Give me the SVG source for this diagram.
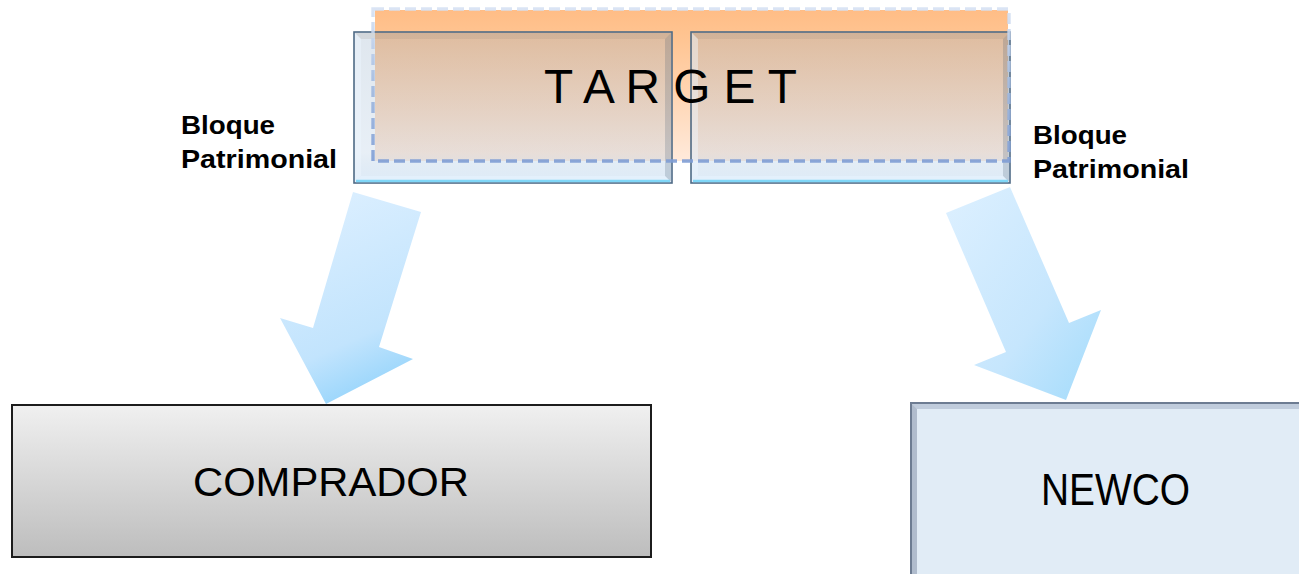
<svg xmlns="http://www.w3.org/2000/svg" width="1299" height="574" viewBox="0 0 1299 574">
  <defs>
    <linearGradient id="orangeFill" x1="0" y1="0" x2="0" y2="1">
      <stop offset="0" stop-color="#ffbd86"/>
      <stop offset="0.2" stop-color="#ffc593"/>
      <stop offset="1" stop-color="#ffeadb"/>
    </linearGradient>
    <linearGradient id="dashStroke" x1="0" y1="0" x2="0" y2="1">
      <stop offset="0" stop-color="#d6e1f3"/>
      <stop offset="0.5" stop-color="#a2badf"/>
      <stop offset="1" stop-color="#7f9dd4"/>
    </linearGradient>
    <linearGradient id="glassFill" x1="0" y1="0" x2="0" y2="1">
      <stop offset="0" stop-color="#94adc6" stop-opacity="0.30"/>
      <stop offset="0.8" stop-color="#a6c2de" stop-opacity="0.26"/>
      <stop offset="1" stop-color="#c4dcf2" stop-opacity="0.55"/>
    </linearGradient>
    <linearGradient id="arrowLeft" x1="0.3" y1="0" x2="0.6" y2="1">
      <stop offset="0" stop-color="#dcefff"/>
      <stop offset="0.7" stop-color="#c2e4fd"/>
      <stop offset="1" stop-color="#92d3fb"/>
    </linearGradient>
    <linearGradient id="arrowRight" x1="0" y1="0" x2="1" y2="1">
      <stop offset="0" stop-color="#ddf0ff"/>
      <stop offset="0.6" stop-color="#c6e6fd"/>
      <stop offset="1" stop-color="#a2dbfb"/>
    </linearGradient>
    <linearGradient id="grayFill" x1="0" y1="0" x2="0" y2="1">
      <stop offset="0" stop-color="#f0f0f0"/>
      <stop offset="1" stop-color="#bdbdbd"/>
    </linearGradient>
    <style>
      .label { font-family: "Liberation Sans", Arial, sans-serif; fill: #000; }
      .side { font-weight: bold; font-size: 25px; }
      .glass { fill: url(#glassFill); stroke: #4f6b86; stroke-width: 1.6; }
      .bevel-top { fill: #8a7a6a; fill-opacity: 0.14; }
      .bevel-left { fill: #eef6ff; fill-opacity: 0.45; }
      .bevel-right { fill: #36506a; fill-opacity: 0.2; }
      .bevel-bottom { fill: #e6f4ff; fill-opacity: 0.6; }
      .edge-glow { stroke: #7fd6f7; stroke-width: 2.4; }
    </style>
  </defs>

  <rect width="1299" height="574" fill="#ffffff"/>

  <!-- TARGET: orange block split into two asset blocks -->
  <g id="target">
    <rect x="375" y="10" width="633" height="151" fill="url(#orangeFill)"/>

    <g id="bloque-left">
      <rect class="glass" x="354" y="32" width="318" height="151"/>
      <polygon class="bevel-top" points="355,33 671,33 665,39 361,39"/>
      <polygon class="bevel-left" points="355,33 361,39 361,176 355,182"/>
      <polygon class="bevel-right" points="671,33 671,182 665,176 665,39"/>
      <polygon class="bevel-bottom" points="355,182 361,176 665,176 671,182"/>
      <line class="edge-glow" x1="356" y1="181" x2="670" y2="181"/>
    </g>

    <g id="bloque-right">
      <rect class="glass" x="691" y="32" width="319" height="151"/>
      <polygon class="bevel-top" points="692,33 1009,33 1003,39 698,39"/>
      <polygon class="bevel-left" points="692,33 698,39 698,176 692,182"/>
      <polygon class="bevel-right" points="1009,33 1009,182 1003,176 1003,39"/>
      <polygon class="bevel-bottom" points="692,182 698,176 1003,176 1009,182"/>
      <line class="edge-glow" x1="693" y1="181" x2="1008" y2="181"/>
    </g>

    <rect x="373" y="9" width="636" height="152" fill="none" stroke="url(#dashStroke)" stroke-width="3.4" stroke-dasharray="11 5" stroke-opacity="0.9"/>

    <text class="label" x="544" y="103" font-size="48" textLength="253" lengthAdjust="spacingAndGlyphs">T A R G E T</text>
  </g>

  <g id="label-left">
    <text class="label side" x="181" y="134" textLength="94" lengthAdjust="spacingAndGlyphs">Bloque</text>
    <text class="label side" x="181" y="168" textLength="156" lengthAdjust="spacingAndGlyphs">Patrimonial</text>
  </g>
  <g id="label-right">
    <text class="label side" x="1033" y="144" textLength="94" lengthAdjust="spacingAndGlyphs">Bloque</text>
    <text class="label side" x="1033" y="178" textLength="156" lengthAdjust="spacingAndGlyphs">Patrimonial</text>
  </g>

  <!-- block arrows -->
  <g id="connectors">
    <polygon fill="url(#arrowLeft)" points="353,192 421,212 379,347 413,359 326,404 280,318 313,328"/>
    <polygon fill="url(#arrowRight)" points="1010,187 946,213 1006,352 974,365 1066,400 1101,310 1069,323"/>
  </g>

  <g id="comprador">
    <rect x="12" y="405" width="639" height="152" fill="url(#grayFill)" stroke="#1c1c1c" stroke-width="2"/>
    <text class="label" x="193" y="496" font-size="41" textLength="276" lengthAdjust="spacingAndGlyphs">COMPRADOR</text>
  </g>

  <g id="newco">
    <rect x="911" y="403" width="400" height="180" fill="#e1ecf6" stroke="#6d7c92" stroke-width="2"/>
    <polygon points="912,404 1299,404 1299,409 917,409" fill="#aab8cc" fill-opacity="0.6"/>
    <polygon points="912,404 917,409 917,574 912,574" fill="#8f9db2" fill-opacity="0.6"/>
    <text class="label" x="1041" y="505" font-size="44" textLength="149" lengthAdjust="spacingAndGlyphs">NEWCO</text>
  </g>
</svg>
